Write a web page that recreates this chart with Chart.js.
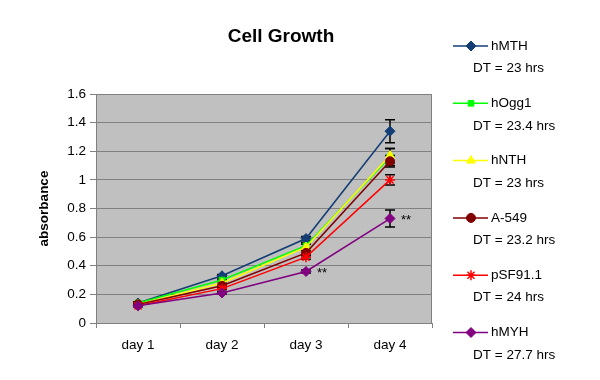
<!DOCTYPE html>
<html>
<head>
<meta charset="utf-8">
<script src="https://cdn.jsdelivr.net/npm/chart.js@4/dist/chart.umd.min.js"></script>
<style>
  html, body { margin: 0; padding: 0; background: #fff; }
  #wrap { width: 600px; height: 380px; }
</style>
</head>
<body>
<div id="wrap"><canvas id="growth"></canvas></div>
<script>
const chartTitle = 'Cell Growth';
const yTitle = 'absorbance';
const days = ['day 1', 'day 2', 'day 3', 'day 4'];
const yTicks = [0, 0.2, 0.4, 0.6, 0.8, 1, 1.2, 1.4, 1.6];

const names = ['hMTH', 'hOgg1', 'hNTH', 'A-549', 'pSF91.1', 'hMYH'];
const dtLabels = ['DT = 23 hrs', 'DT = 23.4 hrs', 'DT = 23 hrs', 'DT = 23.2 hrs', 'DT = 24 hrs', 'DT = 27.7 hrs'];

// absorbance per day
const hMTH   = [0.14, 0.33, 0.59, 1.34];
const hOgg1  = [0.14, 0.30, 0.54, 1.16];
const hNTH   = [0.13, 0.28, 0.53, 1.17];
const a549   = [0.13, 0.26, 0.49, 1.13];
const pSF911 = [0.12, 0.24, 0.46, 1.00];
const hMYH   = [0.12, 0.21, 0.36, 0.73];

// error bars (+/-)
const hMTHErr   = [0.006, 0.008, 0.015, 0.08];
const hOgg1Err  = [0.006, 0.008, 0.02, 0.06];
const hNTHErr   = [0.006, 0.008, 0.02, 0.05];
const a549Err   = [0.006, 0.008, 0.02, 0.04];
const pSF911Err = [0.006, 0.008, 0.015, 0.035];
const hMYHErr   = [0.006, 0.008, 0.01, 0.06];

// significance marks on hMYH
const hMYHMarks = ['', '', '**', '**'];

const series = [hMTH, hOgg1, hNTH, a549, pSF911, hMYH];
const errors = [hMTHErr, hOgg1Err, hNTHErr, a549Err, pSF911Err, hMYHErr];
const marks = [null, null, null, null, null, hMYHMarks];

const colors = ['#133d74', '#00ff00', '#ffff00', '#800000', '#ff0000', '#800080'];
const styles = ['rectRot', 'rect', 'triangle', 'circle', 'star', 'rectRot'];
const radii = [5, 4, 5, 4.5, 5, 5];

const FONT = '"Liberation Sans", Arial, sans-serif';

const datasets = series.map((vals, i) => ({
  label: names[i],
  data: vals,
  borderColor: colors[i],
  backgroundColor: colors[i],
  borderWidth: 1.5,
  pointStyle: styles[i],
  pointRadius: radii[i],
  pointBorderWidth: styles[i] === 'star' ? 1.5 : 1,
  pointBackgroundColor: colors[i],
  pointBorderColor: colors[i],
  tension: 0,
  order: series.length - i
}));

// grey plot background + border
const plotBg = {
  id: 'plotBg',
  beforeDraw(chart) {
    const { ctx, chartArea: a } = chart;
    ctx.save();
    ctx.fillStyle = '#c0c0c0';
    ctx.fillRect(a.left, a.top, a.right - a.left, a.bottom - a.top);
    ctx.restore();
  },
  afterDraw(chart) {
    const { ctx, chartArea: a } = chart;
    ctx.save();
    ctx.strokeStyle = '#808080';
    ctx.lineWidth = 1;
    ctx.strokeRect(a.left + 0.5, a.top + 0.5, a.right - a.left - 1, a.bottom - a.top);
    ctx.restore();
  }
};

// error bars (under the markers) and ** marks
const errBars = {
  id: 'errBars',
  beforeDatasetsDraw(chart) {
    const { ctx } = chart;
    const ys = chart.scales.y;
    ctx.save();
    ctx.strokeStyle = '#000';
    ctx.lineWidth = 1.5;
    chart.data.datasets.forEach((ds, i) => {
      const meta = chart.getDatasetMeta(i);
      meta.data.forEach((pt, j) => {
        const e = errors[i][j];
        const y1 = ys.getPixelForValue(ds.data[j] + e);
        const y2 = ys.getPixelForValue(ds.data[j] - e);
        ctx.beginPath();
        ctx.moveTo(pt.x, y1); ctx.lineTo(pt.x, y2);
        ctx.moveTo(pt.x - 5, y1); ctx.lineTo(pt.x + 5, y1);
        ctx.moveTo(pt.x - 5, y2); ctx.lineTo(pt.x + 5, y2);
        ctx.stroke();
      });
    });
    ctx.restore();
  },
  afterDatasetsDraw(chart) {
    const { ctx } = chart;
    ctx.save();
    ctx.fillStyle = '#000';
    ctx.font = '13px ' + FONT;
    ctx.textAlign = 'left';
    ctx.textBaseline = 'middle';
    marks.forEach((m, i) => {
      if (!m) return;
      const meta = chart.getDatasetMeta(i);
      m.forEach((txt, j) => {
        if (txt) ctx.fillText(txt, meta.data[j].x + 11, meta.data[j].y + 2);
      });
    });
    ctx.restore();
  }
};

// title and right-hand legend
const sideLegend = {
  id: 'sideLegend',
  afterDraw(chart) {
    const { ctx } = chart;
    ctx.save();
    ctx.fillStyle = '#000';
    ctx.font = 'bold 19px ' + FONT;
    ctx.textAlign = 'center';
    ctx.textBaseline = 'middle';
    ctx.fillText(chartTitle, 281, 37);

    ctx.textAlign = 'left';
    ctx.font = '13.5px ' + FONT;
    names.forEach((n, i) => {
      const y = 46 + i * 57.3;
      ctx.strokeStyle = colors[i];
      ctx.lineWidth = 1.5;
      ctx.beginPath();
      ctx.moveTo(453, y); ctx.lineTo(488, y);
      ctx.stroke();
      ctx.fillStyle = colors[i];
      ctx.lineWidth = styles[i] === 'star' ? 1.5 : 1;
      Chart.helpers.drawPoint(ctx, { pointStyle: styles[i], radius: radii[i], rotation: 0, borderWidth: 1 }, 471, y);
      ctx.fillStyle = '#000';
      ctx.fillText(n, 491, y);
      ctx.fillText(dtLabels[i], 473, y + 22.5);
    });
    ctx.restore();
  }
};

new Chart(document.getElementById('growth'), {
  type: 'line',
  data: { labels: days, datasets: datasets },
  plugins: [plotBg, errBars, sideLegend],
  options: {
    responsive: true,
    maintainAspectRatio: false,
    animation: false,
    layout: { padding: { top: 94, right: 168, left: 0, bottom: 0 } },
    plugins: { legend: { display: false }, tooltip: { enabled: false } },
    scales: {
      x: {
        offset: true,
        grid: { offset: true, drawOnChartArea: false, tickLength: 5, color: '#808080' },
        border: { color: '#808080' },
        ticks: { color: '#000', font: { family: FONT, size: 13.5 }, padding: 9 },
        afterFit: s => { s.height = 57; }
      },
      y: {
        min: 0,
        max: 1.6,
        afterBuildTicks: s => { s.ticks = yTicks.map(v => ({ value: v })); },
        grid: { color: '#808080', tickLength: 6 },
        border: { color: '#808080' },
        ticks: { color: '#000', font: { family: FONT, size: 13.5 }, padding: 4, callback: v => String(v) },
        title: { display: true, text: yTitle, color: '#000', font: { family: FONT, size: 13.5, weight: 'bold' }, padding: { top: 36, bottom: 0 } },
        afterFit: s => { s.width = 96; }
      }
    }
  }
});
</script>
</body>
</html>
